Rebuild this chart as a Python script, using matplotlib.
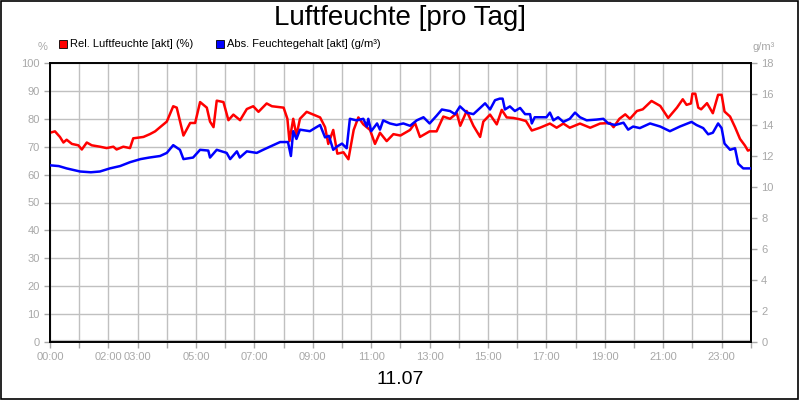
import matplotlib
matplotlib.use("Agg")
import matplotlib.pyplot as plt
from matplotlib.patches import Rectangle

plt.rcParams["font.family"] = "Liberation Sans"

rel_t = [0,0.17,0.34,0.46,0.57,0.75,0.97,1.09,1.26,1.43,1.71,1.94,2.17,2.28,2.51,2.74,2.85,3.2,3.42,3.6,3.77,4.0,4.22,4.34,4.57,4.8,4.97,5.14,5.37,5.48,5.6,5.71,5.94,6.11,6.28,6.51,6.74,6.96,7.14,7.42,7.6,8.0,8.13,8.2,8.33,8.44,8.56,8.79,9.02,9.25,9.42,9.53,9.7,9.84,10.05,10.22,10.4,10.56,10.73,10.96,11.13,11.3,11.53,11.76,12.0,12.33,12.5,12.67,13.0,13.24,13.47,13.7,13.93,14.05,14.27,14.5,14.73,14.84,15.07,15.3,15.47,15.64,15.87,16.1,16.3,16.5,16.78,17.12,17.35,17.58,17.8,18.15,18.5,18.84,19.18,19.3,19.5,19.7,19.86,20.1,20.3,20.6,20.9,21.17,21.47,21.67,21.8,21.95,22.0,22.1,22.2,22.3,22.5,22.7,22.88,23.0,23.1,23.29,23.46,23.63,23.8,23.9,24.0]
rel_v = [75,75.5,73.5,71.5,72.5,71,70.5,69,71.5,70.5,70,69.5,70,69,70,69.5,73,73.5,74.5,75.5,77,79,84.5,84,74,78.5,78.5,86,84,79,77,86.5,86,79.5,81.5,79.5,83.5,84.5,82.5,85.5,84.5,84,80,72,80,74,80,82.5,81.5,80.5,77,71,76,67.5,68,65.5,76,80.5,78,76,71,75,72,74.5,74,76,78.5,73.5,75.5,75.5,80.8,80,82,77.5,82.8,77.5,73.5,79,81.5,78,83.2,80.5,80.3,79.8,79.2,75.8,76.8,78.3,76.8,78.3,76.8,78.3,76.8,78.3,78.5,77,80,81.6,80,82.8,83.4,86.4,84.6,80.3,84,87,85,85.5,89,89,84,83.4,85.6,82,88.6,88.6,82.6,80.8,77,72.8,70.4,68.6,69]

abs_t = [0,0.3,0.57,1.03,1.4,1.71,2.05,2.4,2.74,3.1,3.4,3.77,4.0,4.22,4.45,4.57,4.9,5.14,5.42,5.48,5.71,6.05,6.17,6.4,6.5,6.74,7.08,7.3,7.53,7.88,8.15,8.25,8.33,8.44,8.56,8.9,9.07,9.25,9.42,9.55,9.7,9.82,10.0,10.16,10.27,10.5,10.73,10.85,10.9,11.0,11.2,11.3,11.41,11.64,11.87,12.1,12.33,12.56,12.79,13.0,13.24,13.42,13.7,13.87,14.04,14.27,14.5,14.73,14.9,15.07,15.24,15.4,15.5,15.58,15.75,15.92,16.1,16.27,16.44,16.5,16.6,17.0,17.12,17.24,17.4,17.58,17.8,17.98,18.15,18.38,18.72,18.95,19.12,19.36,19.64,19.8,19.97,20.2,20.55,20.9,21.23,21.57,21.97,22.14,22.37,22.54,22.7,22.88,23.0,23.1,23.29,23.46,23.57,23.74,24.0]
abs_v = [11.4,11.35,11.2,11.0,10.95,11.0,11.2,11.35,11.6,11.8,11.9,12.0,12.2,12.7,12.4,11.8,11.9,12.4,12.35,11.9,12.4,12.2,11.8,12.3,11.9,12.3,12.2,12.4,12.6,12.9,12.9,12.0,13.6,13.1,13.7,13.6,13.8,14.0,13.2,13.3,12.4,12.6,12.8,12.5,14.4,14.3,14.4,13.9,14.4,13.6,14.1,13.7,14.3,14.1,14.0,14.1,13.95,14.3,14.5,14.1,14.6,15.0,14.9,14.7,15.2,14.8,14.7,15.1,15.4,15.0,15.6,15.7,15.7,15.0,15.2,14.9,15.1,14.7,14.7,14.1,14.5,14.5,14.8,14.3,14.5,14.2,14.4,14.8,14.5,14.3,14.35,14.4,14.1,14.0,14.15,13.7,13.9,13.8,14.1,13.9,13.6,13.9,14.2,14.0,13.8,13.4,13.5,14.1,13.8,12.8,12.4,12.5,11.5,11.2,11.2]

hour_ticks = list(range(0, 25))
hour_labels = ["00:00","","02:00","03:00","","05:00","","07:00","","09:00","","11:00","","13:00","","15:00","","17:00","","19:00","","21:00","","23:00",""]
left_ticks = list(range(0, 101, 10))
right_ticks = list(range(0, 19, 2))

fig = plt.figure(figsize=(8, 4), dpi=100)
fig.patch.set_facecolor("white")
fig.add_artist(Rectangle((0.001, 0.002), 0.997, 0.996, transform=fig.transFigure,
                         fill=False, edgecolor="black", linewidth=1.2))
ax = fig.add_axes([0.0625, 0.145, 0.876, 0.6975])
ax2 = ax.twinx()
grey = "#a8a8a8"
ax.set_xlim(0, 24)
ax.set_ylim(0, 100)
ax2.set_ylim(0, 18)
ax.set_xticks(hour_ticks)
ax.set_xticklabels(hour_labels)
ax.set_yticks(left_ticks)
ax2.set_yticks(right_ticks)
ax.grid(True, color="#c0c0c0", linewidth=1)
for a in (ax, ax2):
    a.tick_params(colors=grey, labelsize=8, length=4, width=1)
    for s in a.spines.values():
        s.set_color("black")
        s.set_linewidth(1.2)
ax.plot(rel_t, rel_v, color="#ff0000", linewidth=1.8, zorder=3)
ax2.plot(abs_t, abs_v, color="#0000ff", linewidth=1.8, zorder=3)
ax.axhline(0, color="#c0c0c0", linewidth=3, zorder=1)

fig.text(0.5, 0.955, "Luftfeuchte [pro Tag]", ha="center", va="center", fontsize=20)
fig.text(0.5, 0.05, "11.07", ha="center", va="center", fontsize=14)
fig.text(0.053, 0.882, "%", ha="center", va="center", fontsize=8, color=grey)
fig.text(0.955, 0.882, "g/m³", ha="center", va="center", fontsize=8, color=grey)
fig.add_artist(Rectangle((0.074, 0.881), 0.01, 0.02, transform=fig.transFigure,
                         facecolor="#ff0000", edgecolor="black", linewidth=0.6))
fig.text(0.088, 0.891, "Rel. Luftfeuchte [akt] (%)", va="center", fontsize=8)
fig.add_artist(Rectangle((0.27, 0.881), 0.01, 0.02, transform=fig.transFigure,
                         facecolor="#0000ff", edgecolor="black", linewidth=0.6))
fig.text(0.284, 0.891, "Abs. Feuchtegehalt [akt] (g/m³)", va="center", fontsize=8)

fig.savefig("out.png", dpi=100)
